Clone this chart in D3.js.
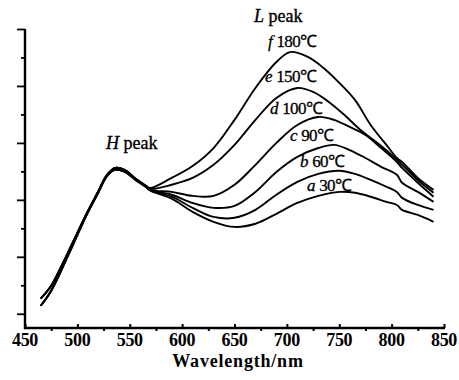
<!DOCTYPE html>
<html>
<head>
<meta charset="utf-8">
<script src="https://cdn.jsdelivr.net/npm/d3@7"></script>
<style>
  body { margin: 0; background: #fff; }
  svg { display: block; }
</style>
</head>
<body>
<svg id="chart"></svg>
<script>
const width = 459;
const height = 380;
const serif = '"Liberation Serif", "Times New Roman", serif';

// wavelengths shared by the front part of every curve (nm)
const commonNm = [465, 475, 490, 500, 510, 520, 528, 536, 545, 555, 565];
// two groups are visible near the start
const commonHigh = [0.53, 0.98, 2.07, 2.84, 3.60, 4.30, 4.86, 5.12, 5.05, 4.76, 4.50];
const commonLow  = [0.28, 0.81, 1.96, 2.77, 3.56, 4.26, 4.82, 5.06, 4.99, 4.72, 4.47];

// tail of each curve
const tailNm = {
  f: [570, 590, 610, 630, 650, 670, 690, 703, 720, 735, 750, 765, 780, 795, 805, 810, 825, 840],
  e: [570, 590, 610, 630, 650, 670, 690, 710, 725, 740, 755, 770, 785, 800, 810, 825, 840],
  d: [570, 590, 610, 630, 650, 670, 690, 710, 730, 745, 760, 775, 790, 805, 810, 825, 840],
  c: [570, 590, 610, 630, 650, 670, 690, 710, 730, 745, 760, 775, 790, 805, 810, 825, 840],
  b: [570, 590, 610, 630, 650, 670, 690, 710, 730, 750, 765, 780, 795, 805, 810, 825, 840],
  a: [570, 590, 610, 630, 650, 670, 690, 710, 730, 750, 765, 780, 795, 805, 810, 825, 840]
};
const tailF = [4.42, 4.77, 5.19, 5.82, 6.81, 7.93, 8.84, 9.19, 9.02, 8.63, 8.11, 7.51, 6.63, 5.93, 5.47, 5.33, 4.77, 4.35];
const tailE = [4.39, 4.53, 4.77, 5.23, 5.93, 6.81, 7.58, 7.93, 7.79, 7.44, 6.98, 6.46, 6.04, 5.58, 5.23, 4.70, 4.25];
const tailD = [4.35, 4.28, 4.14, 4.14, 4.53, 5.23, 6.00, 6.63, 6.91, 6.81, 6.56, 6.28, 5.82, 5.33, 5.12, 4.60, 4.11];
const tailC = [4.35, 4.18, 3.89, 3.72, 3.79, 4.28, 4.98, 5.51, 5.82, 5.93, 5.75, 5.47, 5.16, 4.88, 4.60, 4.28, 3.93];
const tailB = [4.32, 4.11, 3.72, 3.40, 3.37, 3.65, 4.18, 4.63, 4.91, 5.02, 4.91, 4.70, 4.46, 4.28, 4.07, 3.82, 3.65];
const tailA = [4.32, 4.04, 3.58, 3.23, 3.05, 3.16, 3.51, 3.89, 4.14, 4.28, 4.25, 4.11, 3.93, 3.82, 3.65, 3.47, 3.23];

const seriesKeys = ['a', 'b', 'c', 'd', 'e', 'f'];
const seriesNames = ['a 30℃', 'b 60℃', 'c 90℃', 'd 100℃', 'e 150℃', 'f 180℃'];
const tails = { a: tailA, b: tailB, c: tailC, d: tailD, e: tailE, f: tailF };

const xTicks = [450, 500, 550, 600, 650, 700, 750, 800, 850];

const svg = d3.select('#chart')
  .attr('width', width)
  .attr('height', height)
  .attr('font-family', serif);

const x = d3.scaleLinear().domain([450, 850]).range([25, 444]);
const y = d3.scaleLinear().domain([-0.5, 10]).range([328, 29]);

// build the point lists: shared start, then each curve's own tail
const curves = seriesKeys.map((k) => {
  const start = ['a', 'b', 'c'].includes(k) ? commonLow : commonHigh;
  const pts = commonNm.map((nm, i) => [nm, start[i]]);
  tailNm[k].forEach((nm, i) => pts.push([nm, tails[k][i]]));
  return { key: k, points: pts };
});

const line = d3.line()
  .x((d) => x(d[0]))
  .y((d) => y(d[1]))
  .curve(d3.curveCatmullRom.alpha(0.5));

svg.append('g')
  .selectAll('path')
  .data(curves)
  .enter()
  .append('path')
    .attr('d', (d) => line(d.points))
    .attr('fill', 'none')
    .attr('stroke', '#000')
    .attr('stroke-width', 1.9);

// axes
const xAxis = svg.append('g').attr('transform', `translate(0, ${y.range()[0]})`);
xAxis.call(d3.axisBottom(x).tickValues(d3.range(475, 850, 50)).tickSize(3).tickFormat(''));
xAxis.append('g').call(d3.axisTop(x).tickValues(xTicks).tickSize(4).tickFormat(''));
xAxis.selectAll('path.domain').remove();
xAxis.append('line')
  .attr('x1', x(450) - 1).attr('x2', x(850) + 1)
  .attr('stroke', '#000').attr('stroke-width', 2.4);
xAxis.selectAll('.tick line').attr('stroke', '#000').attr('stroke-width', 2);

svg.append('g')
  .selectAll('text')
  .data(xTicks)
  .enter()
  .append('text')
    .attr('x', (d) => x(d))
    .attr('y', 346)
    .attr('text-anchor', 'middle')
    .attr('font-family', serif)
    .attr('font-size', 18)
    .attr('font-weight', 'bold')
    .attr('letter-spacing', -0.3)
    .text((d) => d);

const yAxis = svg.append('g').attr('transform', `translate(${x(450)}, 0)`);
yAxis.call(d3.axisLeft(y).tickValues(d3.range(0, 11, 2)).tickSize(8).tickFormat(''));
yAxis.append('g').call(d3.axisLeft(y).tickValues(d3.range(1, 11, 2)).tickSize(4).tickFormat(''));
yAxis.selectAll('path.domain').remove();
yAxis.append('line')
  .attr('y1', y(10)).attr('y2', y(-0.5) + 1)
  .attr('stroke', '#000').attr('stroke-width', 2.4);
yAxis.selectAll('.tick line').attr('stroke', '#000').attr('stroke-width', 1.8);

svg.append('text')
  .attr('x', 238)
  .attr('y', 367)
  .attr('text-anchor', 'middle')
  .attr('font-family', serif)
  .attr('font-size', 18)
  .attr('font-weight', 'bold')
  .attr('letter-spacing', 0.8)
  .text('Wavelength/nm');

// peak labels
const peakLabel = (px, py, letter) => {
  const t = svg.append('text').attr('x', px).attr('y', py)
    .attr('font-family', serif).attr('font-size', 18)
    .attr('stroke', '#000').attr('stroke-width', 0.35);
  t.append('tspan').attr('font-style', 'italic').text(letter);
  t.append('tspan').text(' peak');
};
peakLabel(106, 149, 'H');
peakLabel(254, 22, 'L');

// temperature labels, sitting above each curve's L peak
const labelPos = {
  f: [268, 47], e: [265, 82], d: [270, 114], c: [290, 141], b: [300, 167], a: [307, 191]
};
seriesKeys.forEach((k, i) => {
  const [lx, ly] = labelPos[k];
  const parts = seriesNames[i].split(' ');
  const t = svg.append('text').attr('x', lx).attr('y', ly)
    .attr('font-family', serif).attr('font-size', 17)
    .attr('stroke', '#000').attr('stroke-width', 0.3);
  t.append('tspan').attr('font-style', 'italic').text(parts[0]);
  t.append('tspan').attr('letter-spacing', -0.6).text(' ' + parts[1]);
});
</script>
</body>
</html>
